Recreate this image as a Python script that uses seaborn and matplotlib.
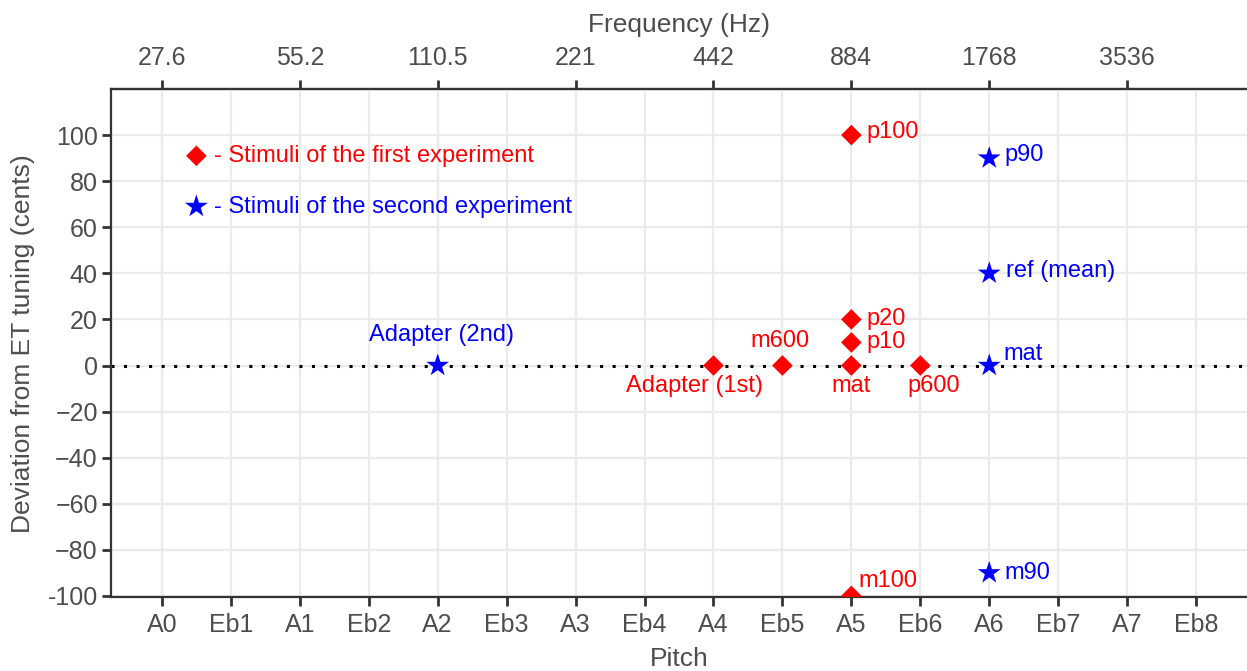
import matplotlib
matplotlib.use("Agg")
import matplotlib.pyplot as plt
import seaborn as sns
import pandas as pd

sns.set_theme(style="white")
plt.rcParams["font.family"] = ["Liberation Sans", "DejaVu Sans"]

# Stimuli of the first experiment (diamonds)
exp1_notes = ["A4", "Eb5", "A5", "A5", "A5", "A5", "A5", "Eb6"]
exp1_cents = [0, 0, 0, 10, 20, 100, -100, 0]
exp1_labels = ["Adapter (1st)", "m600", "mat", "p10", "p20", "p100", "m100", "p600"]

# Stimuli of the second experiment (stars)
exp2_notes = ["A2", "A6", "A6", "A6", "A6"]
exp2_cents = [0, 90, 40, 0, -90]
exp2_labels = ["Adapter (2nd)", "p90", "ref (mean)", "mat", "m90"]

# Pitch axis (bottom) and frequency axis (top)
pitch_ticks = ["A0", "Eb1", "A1", "Eb2", "A2", "Eb3", "A3", "Eb4",
               "A4", "Eb5", "A5", "Eb6", "A6", "Eb7", "A7", "Eb8"]
freq_notes = ["A0", "A1", "A2", "A3", "A4", "A5", "A6", "A7"]
freq_labels = ["27.6", "55.2", "110.5", "221", "442", "884", "1768", "3536"]
cent_ticks = [-100, -80, -60, -40, -20, 0, 20, 40, 60, 80, 100]

# Key entries drawn inside the panel
key_notes = ["C1", "C1"]
key_cents = [91, 69]
key_texts = ["- Stimuli of the first experiment", "- Stimuli of the second experiment"]

SEMI = {"C": 0, "Db": 1, "D": 2, "Eb": 3, "E": 4, "F": 5, "Gb": 6, "G": 7,
        "Ab": 8, "A": 9, "Bb": 10, "B": 11}


def midi(name):
    return 12 * (int(name[-1]) + 1) + SEMI[name[:-1]]


RED = "#FF0000"
BLUE = "#0000FF"
GREY = "#4D4D4D"
TICK_FS = 18
TITLE_FS = 19
NOTE_FS = 17

df1 = pd.DataFrame({"pitch": [midi(n) for n in exp1_notes], "cents": exp1_cents,
                    "label": exp1_labels})
df2 = pd.DataFrame({"pitch": [midi(n) for n in exp2_notes], "cents": exp2_cents,
                    "label": exp2_labels})

fig = plt.figure(figsize=(12.47, 6.71), dpi=100)
ax = fig.add_axes([111 / 1247, 1 - 597.3 / 671, 1 - 111 / 1247, (597.3 - 89) / 671])

ax.axhline(0, color="black", lw=2.2, ls=(0, (1, 3.1)), dash_capstyle="butt", zorder=2)

sns.scatterplot(data=df1, x="pitch", y="cents", marker="D", s=110, color=RED,
                edgecolor="none", ax=ax, zorder=3)
sns.scatterplot(data=df2, x="pitch", y="cents", marker="*", s=300, color=BLUE,
                edgecolor="none", ax=ax, zorder=3)

# Point labels: (dx, dy) in points, alignment
offsets1 = {
    "Adapter (1st)": (-14, -15, "center", "center"),
    "m600": (-2, 18, "center", "center"),
    "mat": (0, -15, "center", "center"),
    "p10": (11, 0, "left", "center"),
    "p20": (11, 0, "left", "center"),
    "p100": (11, 2, "left", "center"),
    "m100": (5, 11, "left", "center"),
    "p600": (10, -15, "center", "center"),
}
offsets2 = {
    "Adapter (2nd)": (3, 22, "center", "center"),
    "p90": (11, 2, "left", "center"),
    "ref (mean)": (12, 2, "left", "center"),
    "mat": (10, 8, "left", "center"),
    "m90": (11, 0, "left", "center"),
}
for df, offs, col in ((df1, offsets1, RED), (df2, offsets2, BLUE)):
    for _, r in df.iterrows():
        dx, dy, ha, va = offs[r["label"]]
        ax.annotate(r["label"], (r["pitch"], r["cents"]), xytext=(dx, dy),
                    textcoords="offset points", ha=ha, va=va, color=col, fontsize=NOTE_FS)

# In-panel key
ax.scatter([midi(key_notes[0])], [key_cents[0]], marker="D", s=110, color=RED,
           edgecolor="none", zorder=3)
ax.scatter([midi(key_notes[1])], [key_cents[1]], marker="*", s=300, color=BLUE,
           edgecolor="none", zorder=3)
for n, c, t, col in zip(key_notes, key_cents, key_texts, (RED, BLUE)):
    ax.annotate(t, (midi(n), c), xytext=(13, 0), textcoords="offset points",
                ha="left", va="center", color=col, fontsize=NOTE_FS)

ax.set_xlim(midi("A0") - 4.43, midi("Eb8") + 4.43)
ax.set_ylim(-100.6, 120)
ax.set_xticks([midi(n) for n in pitch_ticks])
ax.set_xticklabels(pitch_ticks)
ax.set_yticks(cent_ticks)
ax.set_yticklabels([str(v) if v >= 0 else "\u2212" + str(-v) if v > -100 else "-100"
                    for v in cent_ticks])
ax.grid(True, color="#EBEBEB", lw=1.6, zorder=0)
ax.set_axisbelow(True)

for side in ("left", "bottom", "top"):
    ax.spines[side].set_color("#333333")
    ax.spines[side].set_linewidth(1.6)
ax.spines["right"].set_visible(False)

ax.tick_params(axis="both", which="major", length=6.5, width=2, color="#333333",
               labelcolor=GREY, labelsize=TICK_FS, left=True, bottom=True)
ax.tick_params(axis="x", pad=5)
ax.tick_params(axis="y", pad=3)
ax.set_xlabel("Pitch", fontsize=TITLE_FS, color=GREY, labelpad=7)
ax.set_ylabel("Deviation from ET tuning (cents)", fontsize=TITLE_FS, color=GREY, labelpad=9)

top = ax.secondary_xaxis("top")
top.set_xticks([midi(n) for n in freq_notes])
top.set_xticklabels(freq_labels)
top.tick_params(length=6.5, width=2, color="#333333", labelcolor=GREY,
                labelsize=TICK_FS, pad=7)
top.spines["top"].set_color("#333333")
top.spines["top"].set_linewidth(1.6)
top.set_xlabel("Frequency (Hz)", fontsize=TITLE_FS, color=GREY, labelpad=10)

fig.savefig("out.png", dpi=100)
